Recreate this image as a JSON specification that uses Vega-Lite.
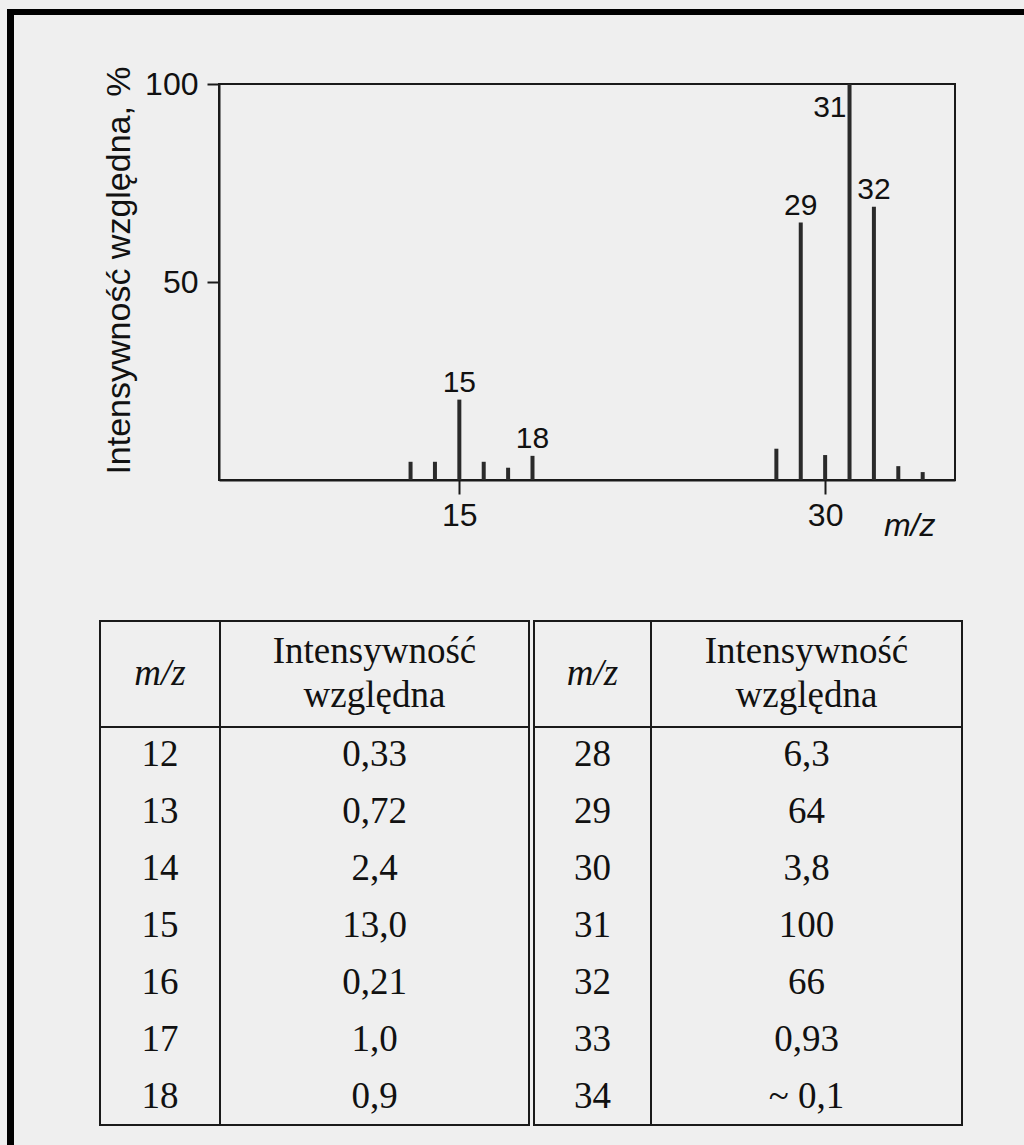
{
  "$schema": "https://vega.github.io/schema/vega-lite/v6.json",
  "background": "#efefef",
  "padding": {"left": 7, "top": 9, "right": 0, "bottom": 0},
  "config": {
    "view": {"stroke": "#1a1a1a", "strokeWidth": 2},
    "font": "Liberation Sans",
    "axis": {"labelColor": "#111", "titleColor": "#111", "tickColor": "#1a1a1a", "domainColor": "#1a1a1a"}
  },
  "datasets": {
    "peaks": [
      {"mz": 13, "h": 4.6, "label": ""},
      {"mz": 14, "h": 4.6, "label": ""},
      {"mz": 15, "h": 20.3, "label": "15"},
      {"mz": 16, "h": 4.6, "label": ""},
      {"mz": 17, "h": 3.1, "label": ""},
      {"mz": 18, "h": 6.1, "label": "18"},
      {"mz": 28, "h": 7.9, "label": ""},
      {"mz": 29, "h": 65, "label": "29"},
      {"mz": 30, "h": 6.3, "label": ""},
      {"mz": 31, "h": 100, "label": "31"},
      {"mz": 32, "h": 69, "label": "32"},
      {"mz": 33, "h": 3.5, "label": ""},
      {"mz": 34, "h": 2.0, "label": ""}
    ],
    "left": [
      {"r": 1, "mz": "12", "v": "0,33"},
      {"r": 2, "mz": "13", "v": "0,72"},
      {"r": 3, "mz": "14", "v": "2,4"},
      {"r": 4, "mz": "15", "v": "13,0"},
      {"r": 5, "mz": "16", "v": "0,21"},
      {"r": 6, "mz": "17", "v": "1,0"},
      {"r": 7, "mz": "18", "v": "0,9"}
    ],
    "right": [
      {"r": 1, "mz": "28", "v": "6,3"},
      {"r": 2, "mz": "29", "v": "64"},
      {"r": 3, "mz": "30", "v": "3,8"},
      {"r": 4, "mz": "31", "v": "100"},
      {"r": 5, "mz": "32", "v": "66"},
      {"r": 6, "mz": "33", "v": "0,93"},
      {"r": 7, "mz": "34", "v": "~ 0,1"}
    ],
    "hdr": [
      {"line": 1, "t": "Intensywność"},
      {"line": 2, "t": "względna"}
    ],
    "mzhdr": [{"line": 1, "t": "m/z"}],
    "none": []
  },
  "spacing": 0,
  "vconcat": [
    {"width": 1017, "height": 6, "data": {"name": "none"}, "mark": "point", "encoding": {}, "view": {"fill": "#000", "stroke": null}},
    {
      "spacing": 85,
      "hconcat": [
        {"width": 7, "height": 1130, "data": {"name": "none"}, "mark": "point", "encoding": {}, "view": {"fill": "#000", "stroke": null}},
        {
          "spacing": 0,
          "vconcat": [
            {"width": 1, "height": 49, "data": {"name": "none"}, "mark": "point", "encoding": {}, "view": {"stroke": null}},
            {
              "spacing": 0,
              "hconcat": [
                {"width": 1, "height": 1, "data": {"name": "none"}, "mark": "point", "encoding": {}, "view": {"stroke": null}},
                {
                  "width": 736,
                  "height": 396,
                  "data": {"name": "peaks"},
                  "layer": [
                    {
                      "mark": {"type": "bar", "width": 4, "color": "#2a2a2a"},
                      "encoding": {
                        "x": {"field": "mz", "type": "quantitative",
                          "scale": {"domain": [5.35, 35.12], "nice": false, "zero": false},
                          "axis": {"values": [15, 30], "grid": false, "title": "m/z",
                            "titleFont": "Liberation Sans", "titleFontStyle": "italic", "titleFontWeight": "normal", "titleFontSize": 32,
                            "titleAlign": "right", "titleBaseline": "alphabetic", "titleX": 716, "titleY": 55,
                            "tickSize": 14, "tickWidth": 2, "domainWidth": 2,
                            "labelFont": "Liberation Sans", "labelFontSize": 32, "labelPadding": 6,
                            "labelFlush": false, "labelOverlap": false, "labelBound": false}
                        },
                        "y": {"field": "h", "type": "quantitative",
                          "scale": {"domain": [0, 100], "nice": false},
                          "axis": {"values": [50, 100], "grid": false, "title": "Intensywność względna, %",
                            "titleFont": "Liberation Sans", "titleFontWeight": "normal", "titleFontSize": 34,
                            "titlePadding": 8, "titleY": 186,
                            "tickSize": 12, "tickWidth": 2, "domainWidth": 2,
                            "labelFont": "Liberation Sans", "labelFontSize": 32, "labelPadding": 9,
                            "labelFlush": false, "labelOverlap": false, "labelBound": false}
                        }
                      }
                    },
                    {
                      "transform": [{"filter": "datum.label != '' && datum.mz != 31"}],
                      "mark": {"type": "text", "baseline": "bottom", "dy": -2, "font": "Liberation Sans", "fontSize": 30, "color": "#111"},
                      "encoding": {
                        "x": {"field": "mz", "type": "quantitative"},
                        "y": {"field": "h", "type": "quantitative"},
                        "text": {"field": "label"}
                      }
                    },
                    {
                      "transform": [{"filter": "datum.mz == 31"}],
                      "mark": {"type": "text", "align": "right", "baseline": "top", "dx": -3, "dy": 9, "font": "Liberation Sans", "fontSize": 30, "color": "#111"},
                      "encoding": {
                        "x": {"field": "mz", "type": "quantitative"},
                        "y": {"field": "h", "type": "quantitative"},
                        "text": {"field": "label"}
                      }
                    }
                  ]
                }
              ]
            },
            {"width": 1, "height": 78, "data": {"name": "none"}, "mark": "point", "encoding": {}, "view": {"stroke": null}},
            {
              "columns": 5,
              "spacing": 0,
              "bounds": "flush",
              "concat": [
                {"width": 120, "height": 106, "data": {"name": "mzhdr"}, "view": {"stroke": "#1a1a1a", "strokeWidth": 2}, "mark": {"type": "text", "font": "Liberation Serif", "fontStyle": "italic", "fontSize": 37, "color": "#111"}, "encoding": {"y": {"field": "line", "type": "ordinal", "axis": null}, "text": {"field": "t"}}},
                {"width": 309, "height": 106, "data": {"name": "hdr"}, "view": {"stroke": "#1a1a1a", "strokeWidth": 2}, "mark": {"type": "text", "font": "Liberation Serif", "fontSize": 37, "color": "#111"}, "encoding": {"y": {"field": "line", "type": "ordinal", "scale": {"padding": 0.73}, "axis": null}, "text": {"field": "t"}}},
                {"width": 5, "height": 106, "data": {"name": "none"}, "mark": "point", "encoding": {}, "view": {"stroke": null}},
                {"width": 117, "height": 106, "data": {"name": "mzhdr"}, "view": {"stroke": "#1a1a1a", "strokeWidth": 2}, "mark": {"type": "text", "font": "Liberation Serif", "fontStyle": "italic", "fontSize": 37, "color": "#111"}, "encoding": {"y": {"field": "line", "type": "ordinal", "axis": null}, "text": {"field": "t"}}},
                {"width": 311, "height": 106, "data": {"name": "hdr"}, "view": {"stroke": "#1a1a1a", "strokeWidth": 2}, "mark": {"type": "text", "font": "Liberation Serif", "fontSize": 37, "color": "#111"}, "encoding": {"y": {"field": "line", "type": "ordinal", "scale": {"padding": 0.73}, "axis": null}, "text": {"field": "t"}}},
                {"width": 120, "height": 398, "data": {"name": "left"}, "view": {"stroke": "#1a1a1a", "strokeWidth": 2}, "mark": {"type": "text", "font": "Liberation Serif", "fontSize": 37, "color": "#111"}, "encoding": {"y": {"field": "r", "type": "ordinal", "axis": null}, "text": {"field": "mz"}}},
                {"width": 309, "height": 398, "data": {"name": "left"}, "view": {"stroke": "#1a1a1a", "strokeWidth": 2}, "mark": {"type": "text", "font": "Liberation Serif", "fontSize": 37, "color": "#111"}, "encoding": {"y": {"field": "r", "type": "ordinal", "axis": null}, "text": {"field": "v"}}},
                {"width": 5, "height": 398, "data": {"name": "none"}, "mark": "point", "encoding": {}, "view": {"stroke": null}},
                {"width": 117, "height": 398, "data": {"name": "right"}, "view": {"stroke": "#1a1a1a", "strokeWidth": 2}, "mark": {"type": "text", "font": "Liberation Serif", "fontSize": 37, "color": "#111"}, "encoding": {"y": {"field": "r", "type": "ordinal", "axis": null}, "text": {"field": "mz"}}},
                {"width": 311, "height": 398, "data": {"name": "right"}, "view": {"stroke": "#1a1a1a", "strokeWidth": 2}, "mark": {"type": "text", "font": "Liberation Serif", "fontSize": 37, "color": "#111"}, "encoding": {"y": {"field": "r", "type": "ordinal", "axis": null}, "text": {"field": "v"}}}
              ]
            }
          ]
        }
      ]
    }
  ]
}
